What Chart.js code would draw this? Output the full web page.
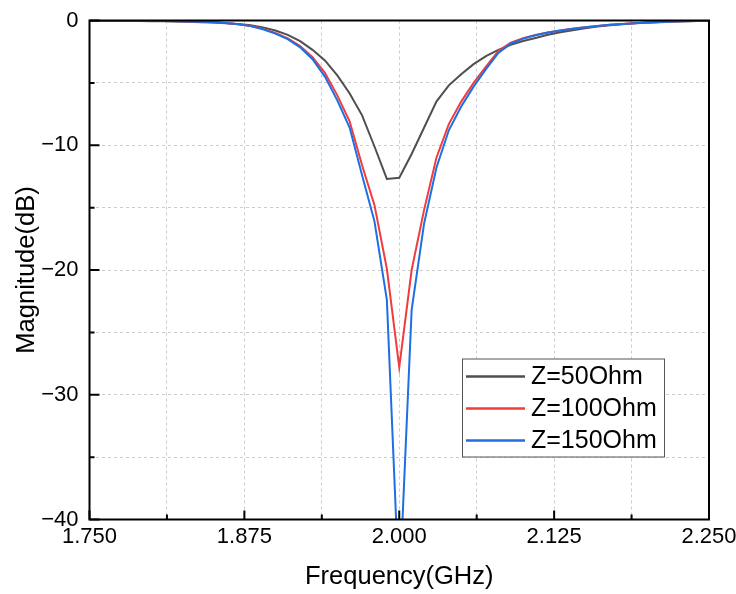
<!DOCTYPE html>
<html>
<head>
<meta charset="utf-8">
<script src="https://cdn.jsdelivr.net/npm/chart.js@4.4.0/dist/chart.umd.min.js"></script>
<style>
    html, body { margin: 0; padding: 0; background: #fff; }
</style>
</head>
<body>
<canvas id="chart" width="736" height="594"></canvas>
<script>
// Frequency points (GHz)
const freqGHz = [
    1.75, 1.76, 1.77, 1.78, 1.79, 1.80, 1.81, 1.82, 1.83, 1.84,
    1.85, 1.86, 1.87, 1.88, 1.89, 1.90, 1.91, 1.92, 1.93, 1.94,
    1.95, 1.96, 1.97, 1.98, 1.99, 2.00, 2.01, 2.02, 2.03, 2.04,
    2.05, 2.06, 2.07, 2.08, 2.09, 2.10, 2.11, 2.12, 2.13, 2.14,
    2.15, 2.16, 2.17, 2.18, 2.19, 2.20, 2.21, 2.22, 2.23, 2.24,
    2.25
];

// Magnitude (dB) per impedance
const z50 = [
    -0.02, -0.02, -0.03, -0.04, -0.05, -0.06, -0.07, -0.09, -0.11, -0.14,
    -0.17, -0.22, -0.29, -0.38, -0.55, -0.8, -1.15, -1.65, -2.35, -3.2,
    -4.4, -5.85, -7.6, -10.1, -12.7, -12.6, -10.7, -8.6, -6.5, -5.2,
    -4.3, -3.5, -2.85, -2.35, -1.95, -1.65, -1.4, -1.15, -0.95, -0.78,
    -0.62, -0.48, -0.38, -0.3, -0.23, -0.18, -0.14, -0.1, -0.07, -0.05,
    -0.03
];
const z100 = [
    -0.01, -0.01, -0.02, -0.02, -0.03, -0.04, -0.05, -0.06, -0.08, -0.11,
    -0.15, -0.21, -0.3, -0.44, -0.67, -1.0, -1.43, -2.05, -2.95, -4.2,
    -6.0, -8.1, -11.6, -14.8, -19.9, -27.8, -20.0, -15.2, -11.0, -8.3,
    -6.5, -5.0, -3.7, -2.45, -1.78, -1.42, -1.17, -0.97, -0.8, -0.66,
    -0.54, -0.44, -0.35, -0.28, -0.22, -0.17, -0.13, -0.09, -0.06, -0.04,
    -0.02
];
const z150 = [
    -0.01, -0.01, -0.02, -0.02, -0.03, -0.04, -0.05, -0.06, -0.08, -0.11,
    -0.15, -0.21, -0.3, -0.45, -0.7, -1.05, -1.5, -2.15, -3.1, -4.5,
    -6.4, -8.6, -12.4, -16.1, -22.4, -46.0, -23.2, -16.3, -11.8, -8.8,
    -6.9, -5.3, -3.9, -2.6, -1.85, -1.45, -1.18, -0.97, -0.8, -0.66,
    -0.54, -0.44, -0.35, -0.28, -0.22, -0.17, -0.13, -0.09, -0.06, -0.04,
    -0.02
];

const seriesLabels = ['Z=50Ohm', 'Z=100Ohm', 'Z=150Ohm'];
const seriesColors = ['#4f4f4f', '#f23c3c', '#1c6fe4'];

const FONT = '"Liberation Sans", Arial, sans-serif';

function toPoints(values) {
    return freqGHz.map((f, i) => ({ x: f, y: values[i] }));
}

function isMajorX(v) {
    return Math.abs(v * 8 - Math.round(v * 8)) < 1e-6;
}

function isMajorY(v) {
    return Math.abs(v % 10) < 1e-6;
}

// Box around the plot plus inward tick marks
const framePlugin = {
    id: 'frame',
    afterDatasetsDraw(chart) {
        const { ctx, chartArea: a, scales: { x, y } } = chart;
        ctx.save();
        ctx.strokeStyle = '#000';
        ctx.lineWidth = 2;
        ctx.beginPath();
        x.ticks.forEach(t => {
            const px = x.getPixelForValue(t.value);
            const len = isMajorX(t.value) ? 9 : 5;
            ctx.moveTo(px, a.bottom);
            ctx.lineTo(px, a.bottom - len);
        });
        y.ticks.forEach(t => {
            const py = y.getPixelForValue(t.value);
            const len = isMajorY(t.value) ? 10 : 5;
            ctx.moveTo(a.left, py);
            ctx.lineTo(a.left + len, py);
        });
        ctx.stroke();
        ctx.strokeRect(a.left, a.top, a.right - a.left, a.bottom - a.top);
        ctx.restore();
    }
};

// Legend box inside the plot, lower right
const boxLegendPlugin = {
    id: 'boxLegend',
    afterDraw(chart) {
        const { ctx, chartArea: a } = chart;
        const boxW = 202, boxH = 98;
        const bx = a.right - 45 - boxW;
        const by = a.bottom - 63 - boxH;
        ctx.save();
        ctx.fillStyle = '#fff';
        ctx.fillRect(bx, by, boxW, boxH);
        ctx.strokeStyle = '#555';
        ctx.lineWidth = 1;
        ctx.strokeRect(bx + 0.5, by + 0.5, boxW, boxH);
        ctx.font = '25px ' + FONT;
        ctx.textBaseline = 'middle';
        ctx.fillStyle = '#000';
        chart.data.datasets.forEach((ds, i) => {
            const rowY = by + 18 + i * 32;
            ctx.strokeStyle = ds.borderColor;
            ctx.lineWidth = 2.5;
            ctx.beginPath();
            ctx.moveTo(bx + 4, rowY);
            ctx.lineTo(bx + 63, rowY);
            ctx.stroke();
            ctx.fillText(ds.label, bx + 69, rowY + 1);
        });
        ctx.restore();
    }
};

const datasets = [z50, z100, z150].map((vals, i) => ({
    label: seriesLabels[i],
    data: toPoints(vals),
    borderColor: seriesColors[i],
    backgroundColor: seriesColors[i],
    borderWidth: 2,
    pointRadius: 0,
    tension: 0,
    order: 3 - i
}));

new Chart(document.getElementById('chart'), {
    type: 'line',
    data: { datasets },
    options: {
        responsive: false,
        animation: false,
        devicePixelRatio: 1,
        layout: { padding: { left: 0, top: 20.5, right: 27, bottom: 0 } },
        scales: {
            x: {
                type: 'linear',
                min: 1.75,
                max: 2.25,
                afterFit: scale => {
                    scale.height = 74.5;
                    scale.paddingLeft = 0;
                    scale.paddingRight = 0;
                },
                ticks: {
                    stepSize: 0.0625,
                    autoSkip: false,
                    maxRotation: 0,
                    padding: 4,
                    color: '#000',
                    font: { family: FONT, size: 22 },
                    callback: v => isMajorX(v) ? v.toFixed(3) : ''
                },
                grid: { color: '#cccccc', lineWidth: 1, drawTicks: false },
                border: { display: false, dash: [3, 3] },
                title: {
                    display: true,
                    text: 'Frequency(GHz)',
                    color: '#000',
                    font: { family: FONT, size: 25.5, lineHeight: 1.2 },
                    padding: { top: 0, bottom: 2 }
                }
            },
            y: {
                type: 'linear',
                min: -40,
                max: 0,
                afterFit: scale => {
                    scale.width = 89.5;
                    scale.paddingTop = 0;
                    scale.paddingBottom = 0;
                },
                ticks: {
                    stepSize: 5,
                    autoSkip: false,
                    padding: 11,
                    color: '#000',
                    font: { family: FONT, size: 22 },
                    callback: v => isMajorY(v) ? (v < 0 ? '\u2212' + Math.abs(v) : String(v)) : ''
                },
                grid: { color: '#cccccc', lineWidth: 1, drawTicks: false },
                border: { display: false, dash: [3, 3] },
                title: {
                    display: true,
                    text: 'Magnitude(dB)',
                    color: '#000',
                    font: { family: FONT, size: 25.5, lineHeight: 1.2 },
                    padding: { top: 12, bottom: 0 }
                }
            }
        },
        plugins: {
            legend: { display: false },
            tooltip: { enabled: false }
        }
    },
    plugins: [framePlugin, boxLegendPlugin]
});
</script>
</body>
</html>
